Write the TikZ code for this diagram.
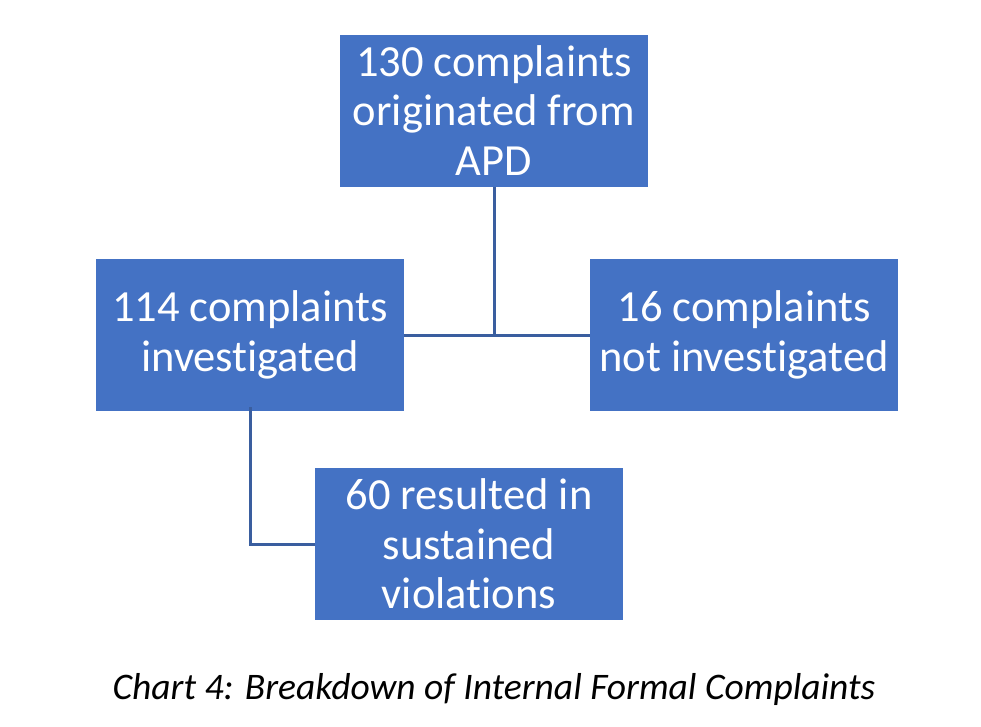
\documentclass[tikz,border=0pt]{standalone}
\usepackage{fontspec}
\setmainfont[Ligatures=NoCommon]{Carlito}
\usetikzlibrary{positioning, calc}
\definecolor{boxblue}{HTML}{4472C4}
\definecolor{lineblue}{HTML}{3A5E9F}

\begin{document}
\begin{tikzpicture}[x=1pt, y=-1pt,
  box/.style = {fill=boxblue, text=white, minimum width=308pt, minimum height=152pt, inner sep=0pt, align=center, font=\fontsize{44.5}{49.5}\selectfont},
  link/.style = {draw=lineblue, line width=3pt}]

\useasboundingbox (0,0) rectangle (981,726);

% top
\node[box] (orig) at (494,110.5) {130 complaints\\originated from\\APD};

% investigated / not investigated
\node[box] (inv)    at (250,335) {114 complaints\\investigated};
\node[box] (notinv) at (744,335) {16 complaints\\not investigated};

% sustained
\node[box] (sust) at (469,544) {60 resulted in\\sustained\\violations};

%--- orig -> split ---
\draw[link] (inv.east) -- (notinv.west);
\draw[link] (orig.south) -- (orig.south |- inv.east);

%--- inv -> sust ---
\draw[link] ([yshift=4pt]inv.south) |- (sust.west);

% caption
\node[font=\fontsize{37.5}{42}\selectfont\itshape] (caption) at (494,689) {Chart 4: Breakdown of Internal Formal Complaints};

\end{tikzpicture}
\end{document}
